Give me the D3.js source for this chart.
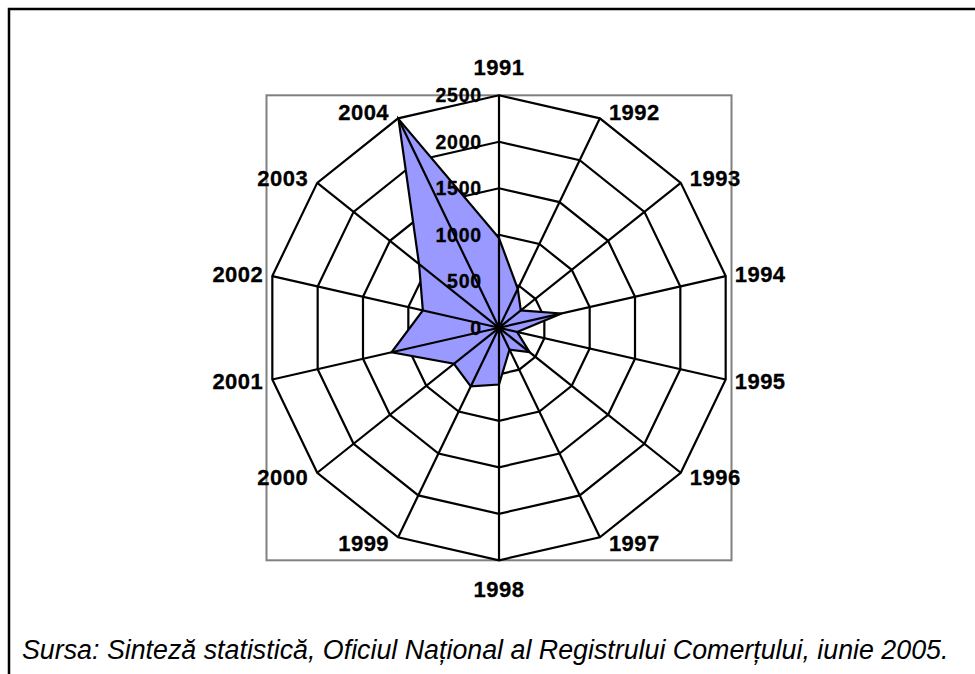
<!DOCTYPE html>
<html>
<head>
<meta charset="utf-8">
<script src="https://cdn.jsdelivr.net/npm/d3@7"></script>
<style>
  html, body { margin: 0; padding: 0; background: #fff; }
  svg { display: block; }
</style>
</head>
<body>
<svg id="chart" width="975" height="674"></svg>
<script>
const years = ["1991","1992","1993","1994","1995","1996","1997","1998","1999","2000","2001","2002","2003","2004"];
const values = [965, 465, 300, 690, 200, 420, 260, 610, 700, 620, 1185, 840, 1100, 2490];
const ticks = [0, 500, 1000, 1500, 2000, 2500];
const sourceText = "Sursa: Sinteză statistică, Oficiul Național al Registrului Comerțului, iunie 2005.";

const W = 975, H = 674;
const cx = 499, cy = 327.8, R = 232.5;
const svg = d3.select("#chart");

const r = d3.scaleLinear().domain([0, 2500]).range([0, R]);
const ang = d3.scaleLinear().domain([0, years.length]).range([0, 2 * Math.PI]);
const pt = (i, v) => {
  const a = ang(i);
  return [cx + r(v) * Math.sin(a), cy - r(v) * Math.cos(a)];
};

// outer frame (left + top visible)
svg.append("path")
  .attr("d", `M9,${H} V9 H${W}`)
  .attr("fill", "none").attr("stroke", "#000").attr("stroke-width", 2.5);

// plot area box
svg.append("rect")
  .attr("x", cx - R).attr("y", cy - R)
  .attr("width", 2 * R).attr("height", 2 * R)
  .attr("fill", "none").attr("stroke", "#808080").attr("stroke-width", 2);

const g = svg.append("g");

// rings
ticks.slice(1).forEach(t => {
  g.append("polygon")
    .attr("points", years.map((_, i) => pt(i, t).join(",")).join(" "))
    .attr("fill", "none").attr("stroke", "#000").attr("stroke-width", 2.2)
    .attr("stroke-linejoin", "miter");
});

// data polygon
g.append("polygon")
  .attr("points", values.map((v, i) => pt(i, v).join(",")).join(" "))
  .attr("fill", "#9999FF").attr("stroke", "#000").attr("stroke-width", 2.2)
  .attr("stroke-linejoin", "miter");

// spokes
years.forEach((_, i) => {
  const [x, y] = pt(i, 2500);
  g.append("line")
    .attr("x1", cx).attr("y1", cy).attr("x2", x).attr("y2", y)
    .attr("stroke", "#000").attr("stroke-width", 2.2);
});

// category labels
years.forEach((yr, i) => {
  const a = ang(i);
  const s = Math.sin(a), c = -Math.cos(a);
  const [x, y] = pt(i, 2500);
  let tx, ty, anchor;
  if (Math.abs(s) < 0.05) {
    tx = x; anchor = "middle";
    ty = y + (c < 0 ? -28 : 29);
  } else {
    anchor = s > 0 ? "start" : "end";
    tx = x + (s > 0 ? 9 : -9);
    ty = y + c * 7;
  }
  svg.append("text")
    .attr("x", tx).attr("y", ty)
    .attr("text-anchor", anchor)
    .attr("dominant-baseline", "central")
    .attr("font-family", "Liberation Sans, Arial, sans-serif")
    .attr("font-weight", "bold").attr("font-size", 22)
    .attr("letter-spacing", 0.5)
    .attr("stroke", "#000").attr("stroke-width", 0.3)
    .attr("fill", "#000")
    .text(yr);
});

// value tick labels
ticks.forEach(t => {
  svg.append("text")
    .attr("x", cx - 17).attr("y", cy - r(t))
    .attr("text-anchor", "end")
    .attr("dominant-baseline", "central")
    .attr("font-family", "Liberation Sans, Arial, sans-serif")
    .attr("font-weight", "bold").attr("font-size", 19.5)
    .attr("letter-spacing", 0.8)
    .attr("stroke", "#000").attr("stroke-width", 0.3)
    .attr("fill", "#000")
    .text(t);
});

// source
svg.append("text")
  .attr("x", 22).attr("y", 659)
  .attr("font-family", "Liberation Sans, Arial, sans-serif")
  .attr("font-style", "italic").attr("font-size", 26.8)
  .attr("fill", "#000")
  .text(sourceText);
</script>
</body>
</html>
